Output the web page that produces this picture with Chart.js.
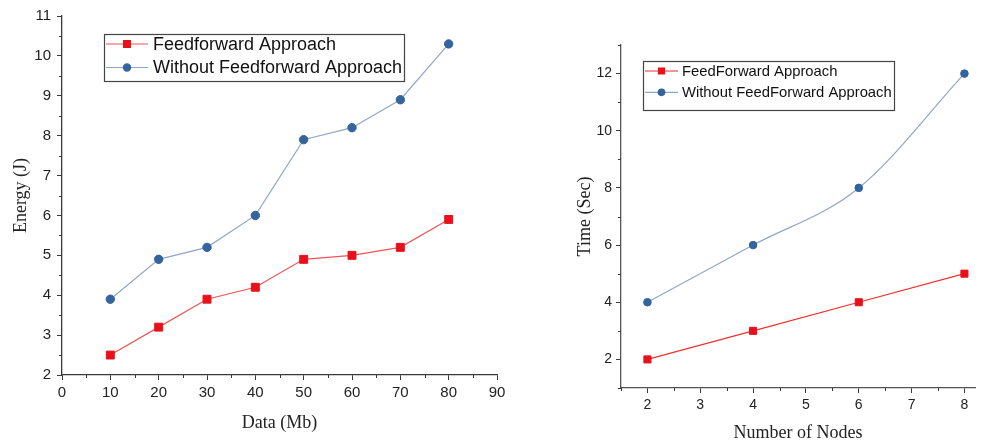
<!DOCTYPE html>
<html>
<head>
<meta charset="utf-8">
<script src="https://cdn.jsdelivr.net/npm/chart.js@4.4.1/dist/chart.umd.min.js"></script>
<style>
  html, body { margin: 0; padding: 0; background: #fff; }
  body { width: 981px; height: 442px; position: relative; overflow: hidden; }
  .panel { position: absolute; top: 0; }
  #leftWrap { left: 0; width: 510px; height: 442px; }
  #rightWrap { left: 560px; width: 421px; height: 442px; }
</style>
</head>
<body>
<div class="panel" id="leftWrap"><canvas id="energyChart" width="510" height="442"></canvas></div>
<div class="panel" id="rightWrap"><canvas id="timeChart" width="421" height="442"></canvas></div>
<script>
// Left chart: energy vs data size
const dataMb = [10, 20, 30, 40, 50, 60, 70, 80];
const energyFeedforward = [2.5, 3.2, 3.9, 4.2, 4.9, 5.0, 5.2, 5.9];
const energyWithout = [3.9, 4.9, 5.2, 6.0, 7.9, 8.2, 8.9, 10.3];
const energyXTicks = [0, 10, 20, 30, 40, 50, 60, 70, 80, 90];
const energyYTicks = [2, 3, 4, 5, 6, 7, 8, 9, 10, 11];

// Right chart: time vs number of nodes
const nodes = [2, 4, 6, 8];
const timeFeedforward = [2, 3, 4, 5];
const timeWithout = [4, 6, 8, 12];
const timeXTicks = [2, 3, 4, 5, 6, 7, 8];
const timeYTicks = [2, 4, 6, 8, 10, 12];

const RED = '#e8111b';
const RED_LINE = '#ef5555';
const BLUE = '#33649e';
const BLUE_LINE = '#8ea7c9';
const AXIS = '#3a3a3a';

function toPoints(xs, ys) {
    return xs.map((x, i) => ({ x: x, y: ys[i] }));
}

// minor ticks drawn through the scales
const minorTicksPlugin = {
    id: 'minorTicks',
    afterDraw(chart, args, opts) {
        const ctx = chart.ctx;
        const xs = chart.scales.x, ys = chart.scales.y;
        ctx.save();
        ctx.strokeStyle = AXIS;
        ctx.lineWidth = 1;
        ctx.beginPath();
        (opts.x || []).forEach(v => {
            const px = Math.round(xs.getPixelForValue(v)) + 0.5;
            ctx.moveTo(px, xs.top);
            ctx.lineTo(px, xs.top + opts.len);
        });
        (opts.y || []).forEach(v => {
            const py = Math.round(ys.getPixelForValue(v)) + 0.5;
            ctx.moveTo(ys.right, py);
            ctx.lineTo(ys.right - opts.len, py);
        });
        ctx.stroke();
        ctx.restore();
    }
};

// boxed legend with line + marker, like the original figure
const boxLegendPlugin = {
    id: 'boxLegend',
    afterDraw(chart, args, opts) {
        const ctx = chart.ctx;
        ctx.save();
        ctx.strokeStyle = '#444';
        ctx.lineWidth = 1.2;
        ctx.strokeRect(opts.x + 0.5, opts.y + 0.5, opts.w, opts.h);
        ctx.font = opts.fontSize + 'px "Liberation Sans", Arial, sans-serif';
        ctx.fillStyle = '#111';
        ctx.textBaseline = 'middle';
        chart.data.datasets.forEach((ds, i) => {
            const cy = opts.y + opts.firstRow + i * opts.rowGap;
            ctx.strokeStyle = ds.borderColor;
            ctx.lineWidth = ds.borderWidth;
            ctx.beginPath();
            ctx.moveTo(opts.x + 2, cy);
            ctx.lineTo(opts.x + 2 + opts.lineLen, cy);
            ctx.stroke();
            ctx.fillStyle = ds.pointBackgroundColor;
            ctx.strokeStyle = ds.pointBorderColor;
            Chart.helpers.drawPoint(ctx, {
                pointStyle: ds.pointStyle,
                radius: ds.pointRadius * opts.markerScale,
                rotation: 0,
                borderWidth: 1
            }, opts.x + 2 + opts.lineLen / 2, cy);
            ctx.fillStyle = '#111';
            ctx.fillText(ds.label, opts.x + opts.textX, cy + 1);
        });
        ctx.restore();
    }
};

function fixedTicks(list) {
    return function(scale) {
        scale.ticks = list.map(v => ({ value: v }));
    };
}

function makeSeries(label, pts, color, lineColor, style, radius, extra) {
    return Object.assign({
        label: label,
        data: pts,
        borderColor: lineColor,
        borderWidth: 1.2,
        backgroundColor: color,
        pointBackgroundColor: color,
        pointBorderColor: color,
        pointStyle: style,
        pointRadius: radius,
        pointBorderWidth: 1,
        tension: 0
    }, extra || {});
}

// Energy chart
new Chart(document.getElementById('energyChart'), {
    type: 'line',
    data: {
        datasets: [
            makeSeries('Feedforward Approach', toPoints(dataMb, energyFeedforward), RED, RED_LINE, 'rect', 5.6),
            makeSeries('Without Feedforward Approach', toPoints(dataMb, energyWithout), BLUE, BLUE_LINE, 'circle', 4.2)
        ]
    },
    options: {
        responsive: false,
        animation: false,
        devicePixelRatio: 1,
        layout: { padding: { top: 16, right: 13, left: 0, bottom: 0 } },
        plugins: {
            legend: { display: false },
            tooltip: { enabled: false },
            minorTicks: { x: [5, 15, 25, 35, 45, 55, 65, 75, 85], y: [2.5, 3.5, 4.5, 5.5, 6.5, 7.5, 8.5, 9.5, 10.5], len: 3 },
            boxLegend: { x: 104, y: 34, w: 300, h: 47, firstRow: 10, rowGap: 23.5, lineLen: 42, textX: 49, fontSize: 18, markerScale: 0.85 }
        },
        scales: {
            x: {
                type: 'linear',
                min: 0,
                max: 90,
                afterBuildTicks: fixedTicks(energyXTicks),
                afterFit: scale => { scale.height = 67; },
                grid: { drawOnChartArea: false, drawTicks: true, tickLength: 5, tickColor: AXIS },
                border: { display: true, color: AXIS, width: 1.3 },
                ticks: { color: '#222', padding: 4, font: { family: '"Liberation Sans", Arial, sans-serif', size: 15 } },
                title: {
                    display: true, text: 'Data (Mb)', color: '#222',
                    padding: { top: 0, bottom: 8 },
                    font: { family: '"Liberation Serif", "Times New Roman", serif', size: 18 }
                }
            },
            y: {
                type: 'linear',
                min: 2,
                max: 11,
                afterBuildTicks: fixedTicks(energyYTicks),
                afterFit: scale => { scale.width = 62; },
                grid: { drawOnChartArea: false, drawTicks: true, tickLength: 5, tickColor: AXIS },
                border: { display: true, color: AXIS, width: 1.3 },
                ticks: { color: '#222', padding: 6, font: { family: '"Liberation Sans", Arial, sans-serif', size: 15 } },
                title: {
                    display: true, text: 'Energy (J)', color: '#222',
                    padding: { top: 10, bottom: 0 },
                    font: { family: '"Liberation Serif", "Times New Roman", serif', size: 18 }
                }
            }
        }
    },
    plugins: [minorTicksPlugin, boxLegendPlugin]
});

// Time chart
new Chart(document.getElementById('timeChart'), {
    type: 'line',
    data: {
        datasets: [
            makeSeries('FeedForward Approach', toPoints(nodes, timeFeedforward), RED, '#ee3030', 'rect', 5),
            makeSeries('Without FeedForward Approach', toPoints(nodes, timeWithout), BLUE, BLUE_LINE, 'circle', 3.8,
                { cubicInterpolationMode: 'monotone' })
        ]
    },
    options: {
        responsive: false,
        animation: false,
        devicePixelRatio: 1,
        layout: { padding: { top: 45, right: 0, left: 0, bottom: 0 } },
        plugins: {
            legend: { display: false },
            tooltip: { enabled: false },
            minorTicks: { x: [1.5, 2.5, 3.5, 4.5, 5.5, 6.5, 7.5], y: [1, 3, 5, 7, 9, 11, 13], len: 3 },
            boxLegend: { x: 83, y: 61, w: 251, h: 49, firstRow: 10, rowGap: 21.3, lineLen: 33, textX: 39, fontSize: 14.8, markerScale: 0.85 }
        },
        scales: {
            x: {
                type: 'linear',
                min: 1.5,
                max: 8.2,
                afterBuildTicks: fixedTicks(timeXTicks),
                afterFit: scale => { scale.height = 54; },
                grid: { drawOnChartArea: false, drawTicks: true, tickLength: 5, tickColor: AXIS },
                border: { display: true, color: '#555', width: 1.3 },
                ticks: { color: '#222', padding: 4, font: { family: '"Liberation Sans", Arial, sans-serif', size: 14 } },
                title: {
                    display: true, text: 'Number of Nodes', color: '#222',
                    padding: { top: 0, bottom: 0 },
                    font: { family: '"Liberation Serif", "Times New Roman", serif', size: 18, lineHeight: 1.0 }
                }
            },
            y: {
                type: 'linear',
                min: 1,
                max: 13,
                afterBuildTicks: fixedTicks(timeYTicks),
                afterFit: scale => { scale.width = 61; },
                grid: { drawOnChartArea: false, drawTicks: true, tickLength: 5, tickColor: AXIS },
                border: { display: true, color: '#555', width: 1.3 },
                ticks: { color: '#222', padding: 4, font: { family: '"Liberation Sans", Arial, sans-serif', size: 14 } },
                title: {
                    display: true, text: 'Time (Sec)', color: '#222',
                    padding: { top: 14, bottom: 0 },
                    font: { family: '"Liberation Serif", "Times New Roman", serif', size: 18 }
                }
            }
        }
    },
    plugins: [minorTicksPlugin, boxLegendPlugin]
});
</script>
</body>
</html>
